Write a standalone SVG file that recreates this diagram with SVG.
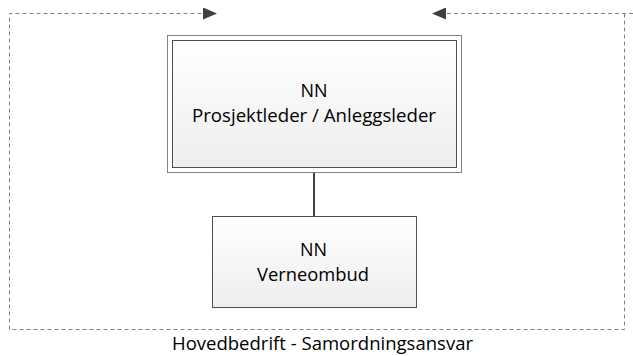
<svg xmlns="http://www.w3.org/2000/svg" width="633" height="356" viewBox="0 0 633 356">
<defs>
<linearGradient id="g" x1="0" y1="0" x2="0" y2="1">
<stop offset="0" stop-color="#ffffff"/>
<stop offset="1" stop-color="#eeeeee"/>
</linearGradient>
<marker id="ah" markerWidth="14" markerHeight="12" refX="14" refY="6" orient="auto" markerUnits="userSpaceOnUse">
<path d="M0,0 L14,6 L0,12 Z" fill="#404040"/>
</marker>
<style>
.t{font-family:"Open Sans","Liberation Sans",Arial,sans-serif;font-size:17.5px;fill:#000;text-anchor:middle}
.d{fill:none;stroke:#808080;stroke-width:1;stroke-dasharray:4,3}
.box{fill:url(#g);stroke:#505050;stroke-width:1}
</style>
</defs>
<rect width="633" height="356" fill="#fff"/>
<g id="connectors">
<path class="d" d="M9.5,329.5 V13.5 H217" marker-end="url(#ah)"/>
<path class="d" d="M633,13.5 H432" marker-end="url(#ah)"/>
<path class="d" d="M624.5,13.5 V329.5 H9.5"/>
<line x1="314" y1="172" x2="314" y2="217" stroke="#404040" stroke-width="2"/>
</g>
<g id="node-prosjektleder">
<rect x="167.5" y="35.5" width="294" height="137" fill="#fff" stroke="#808080"/>
<rect class="box" x="172.5" y="40.5" width="284" height="127"/>
<text class="t" x="314" y="96.5" textLength="27" lengthAdjust="spacingAndGlyphs">NN</text>
<text class="t" x="314" y="122" textLength="244" lengthAdjust="spacingAndGlyphs">Prosjektleder / Anleggsleder</text>
</g>
<g id="node-verneombud">
<rect class="box" x="212.5" y="216.5" width="204" height="91"/>
<text class="t" x="313.5" y="256" textLength="27" lengthAdjust="spacingAndGlyphs">NN</text>
<text class="t" x="313" y="281" textLength="112" lengthAdjust="spacingAndGlyphs">Verneombud</text>
</g>
<g id="label">
<text class="t" x="322.5" y="350" textLength="301" lengthAdjust="spacingAndGlyphs">Hovedbedrift - Samordningsansvar</text>
</g>
</svg>
